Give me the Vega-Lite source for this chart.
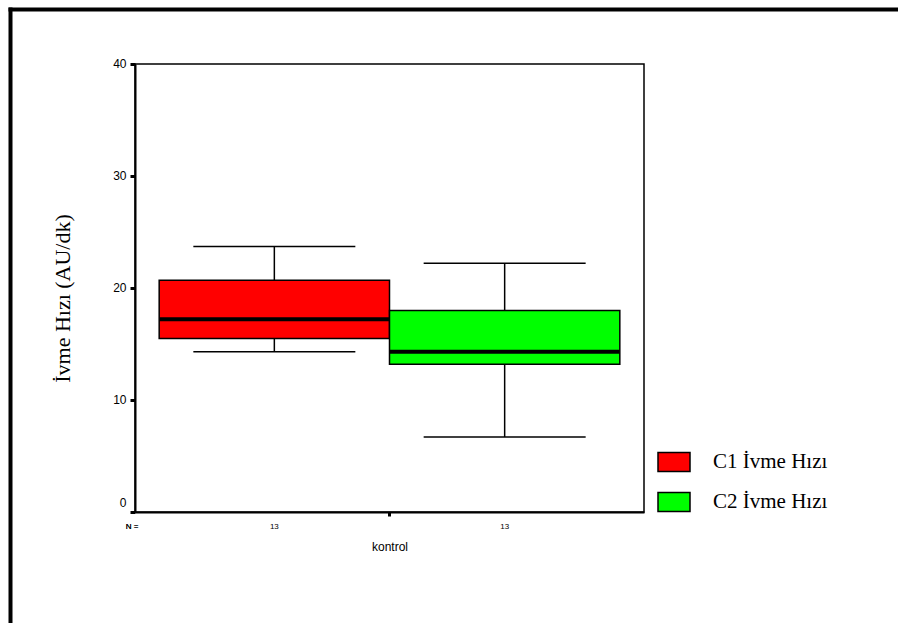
{
  "$schema": "https://vega.github.io/schema/vega-lite/v6.json",
  "autosize": {"type": "none"},
  "width": 509,
  "height": 448,
  "padding": {"left": 135, "top": 64, "right": 254, "bottom": 111},
  "background": "white",
  "config": {
    "view": {"stroke": "#000000", "strokeWidth": 1.5},
    "axis": {"grid": false, "domainColor": "#000000", "tickColor": "#000000", "labelColor": "#000000", "titleColor": "#000000"}
  },
  "data": {
    "values": [
      {"series": "C1 İvme Hızı", "n": 13, "lower": 14.3, "q1": 15.5, "median": 17.2, "q3": 20.7, "upper": 23.7},
      {"series": "C2 İvme Hızı", "n": 13, "lower": 6.7, "q1": 13.2, "median": 14.3, "q3": 18.0, "upper": 22.2}
    ]
  },
  "resolve": {"scale": {"x": "independent", "y": "independent"}, "axis": {"x": "independent", "y": "independent"}},
  "layer": [
    {
      "description": "Page frame: top and left border lines drawn as axis domains",
      "mark": {"type": "point", "opacity": 0},
      "encoding": {
        "x": {
          "datum": 0, "type": "quantitative",
          "scale": {"domain": [0, 1], "range": [-125, 763], "nice": false, "zero": false},
          "axis": {"orient": "top", "offset": 55, "domainWidth": 4, "domainCap": "square", "ticks": false, "labels": false, "title": null}
        },
        "y": {
          "datum": 0, "type": "quantitative",
          "scale": {"domain": [0, 1], "range": [559, -55], "nice": false, "zero": false},
          "axis": {"orient": "left", "offset": 125, "domainWidth": 4, "domainCap": "square", "ticks": false, "labels": false, "title": null}
        }
      }
    },
    {
      "description": "Box plot of the two series",
      "layer": [
        {
          "mark": {"type": "rule", "color": "#000000", "strokeWidth": 1.5},
          "encoding": {
            "x": {"field": "series", "type": "nominal"},
            "y": {"field": "lower", "type": "quantitative"},
            "y2": {"field": "upper"}
          }
        },
        {
          "mark": {"type": "tick", "color": "#000000", "thickness": 1.5, "size": 162, "opacity": 1},
          "encoding": {
            "x": {"field": "series", "type": "nominal"},
            "y": {"field": "lower", "type": "quantitative"}
          }
        },
        {
          "mark": {"type": "tick", "color": "#000000", "thickness": 1.5, "size": 162, "opacity": 1},
          "encoding": {
            "x": {"field": "series", "type": "nominal"},
            "y": {"field": "upper", "type": "quantitative"}
          }
        },
        {
          "mark": {"type": "bar", "stroke": "#000000", "strokeWidth": 1.5, "opacity": 1},
          "encoding": {
            "x": {
              "field": "series", "type": "nominal",
              "scale": {"paddingInner": 0, "paddingOuter": 0.105},
              "axis": {
                "orient": "bottom", "values": ["C1 İvme Hızı"], "bandPosition": 1,
                "labels": false, "tickSize": 4, "tickWidth": 3, "domainWidth": 2,
                "title": "kontrol", "titleFont": "Liberation Sans", "titleFontSize": 12,
                "titleFontWeight": "normal", "titlePadding": 24
              }
            },
            "y": {
              "field": "q1", "type": "quantitative",
              "scale": {"domain": [0, 40], "nice": false},
              "axis": {
                "orient": "left", "values": [0, 10, 20, 30, 40],
                "tickSize": 5, "tickWidth": 3, "domainWidth": 2,
                "labelFont": "Liberation Sans", "labelFontSize": 12, "labelPadding": 4,
                "labelOffset": {"condition": {"test": "datum.value == 0", "value": -10}, "value": -1},
                "title": "İvme Hızı (AU/dk)", "titleFont": "Liberation Serif", "titleFontSize": 22,
                "titleFontWeight": "normal", "titleAngle": -90, "titleX": -73, "titleY": 234,
                "titleAlign": "center", "titleBaseline": "middle"
              }
            },
            "y2": {"field": "q3"},
            "color": {
              "field": "series", "type": "nominal",
              "scale": {"domain": ["C1 İvme Hızı", "C2 İvme Hızı"], "range": ["#ff0000", "#00ff00"]},
              "legend": {
                "orient": "none", "legendX": 522, "legendY": 381, "title": null, "padding": 0,
                "symbolType": "M-1,-0.6H1V0.6H-1Z", "symbolSize": 1024,
                "symbolStrokeColor": "#000000", "symbolStrokeWidth": 1.5, "symbolOpacity": 1,
                "labelFont": "Liberation Serif", "labelFontSize": 21, "labelColor": "#000000",
                "labelOffset": 22, "rowPadding": 10
              }
            }
          }
        },
        {
          "mark": {"type": "tick", "color": "#000000", "thickness": 4, "size": 230, "opacity": 1},
          "encoding": {
            "x": {"field": "series", "type": "nominal"},
            "y": {"field": "median", "type": "quantitative"}
          }
        },
        {
          "mark": {"type": "text", "font": "Liberation Sans", "fontSize": 8, "dy": 15, "baseline": "middle", "color": "#000000"},
          "encoding": {
            "x": {"field": "series", "type": "nominal"},
            "y": {"datum": 0, "type": "quantitative"},
            "text": {"field": "n", "type": "quantitative"}
          }
        },
        {
          "mark": {"type": "text", "font": "Liberation Sans", "fontSize": 8, "dy": 15, "dx": -27, "baseline": "middle", "align": "center", "color": "#000000", "text": "N ="},
          "encoding": {
            "x": {"datum": "C1 İvme Hızı", "type": "nominal", "bandPosition": 0},
            "y": {"datum": 0, "type": "quantitative"}
          }
        }
      ]
    }
  ]
}
